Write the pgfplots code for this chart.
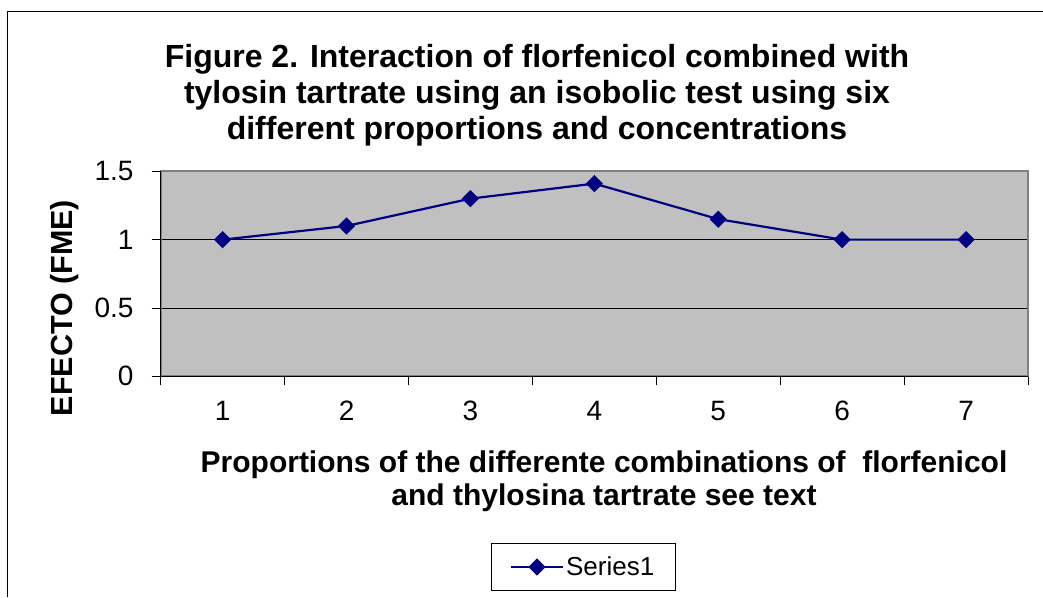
\documentclass[border=0pt]{standalone}
\usepackage{fontspec}
\setmainfont{Liberation Sans}
\usepackage{pgfplots}
\pgfplotsset{compat=1.18}
\definecolor{plotgray}{HTML}{C0C0C0}
\definecolor{bordergray}{HTML}{808080}
\definecolor{navyline}{HTML}{000080}
\begin{document}
\begin{tikzpicture}[x=1pt,y=1pt]
\begin{axis}[
  name=ax,
  scale only axis, width=867.3pt, height=205pt,
  xmin=0.5, xmax=7.5, ymin=0, ymax=1.5,
  xtick={0.5,1.5,2.5,3.5,4.5,5.5,6.5,7.5},
  xticklabels={},
  extra x ticks={1,2,3,4,5,6,7},
  extra x tick labels={1,2,3,4,5,6,7},
  extra x tick style={grid=none, tick style={draw=none}},
  ytick={0,0.5,1,1.5},
  yticklabels={0,0.5,1,1.5},
  xtick pos=bottom, ytick pos=left,
  tick align=outside,
  tick style={black, line width=0.8pt},
  major tick length=9pt,
  ymajorgrids,
  major grid style={black, line width=0.8pt},
  axis background/.style={fill=plotgray},
  axis line style={bordergray, line width=1.8pt},
  /pgf/number format/assume math mode=true,
  tick label style={font=\fontsize{28}{30}\selectfont},
  xticklabel style={anchor=base, yshift=-35.4pt},
  yticklabel style={anchor=east, inner sep=0pt, xshift=-18pt},
  legend style={at={(axis description cs:0.487,-0.930)}, anchor=center,
    draw=black, line width=0.8pt, font=\fontsize{26}{30}\selectfont,
    inner xsep=19pt, inner ysep=11pt},
  legend image code/.code={\draw[#1, mark repeat=2, mark phase=2] plot coordinates {(0pt,0pt) (26pt,0pt) (52pt,0pt)};},
  after end axis/.code={\draw[black, line width=1pt] (rel axis cs:0,1) -- (rel axis cs:0,0) -- (rel axis cs:1,0);
    \coordinate (O) at (rel axis cs:0,0);},
  clip=false,
]
\addplot[navyline, line width=2.2pt, mark=square*, mark size=5pt, mark options={rotate=45, solid, fill=navyline}]
  coordinates {(1,1) (2,1.1) (3,1.3) (4,1.41) (5,1.15) (6,1) (7,1)};
\addlegendentry{Series1}
\end{axis}
\pgfresetboundingbox
\begin{scope}[shift={(O)}, shift={(-160.7,-220.7)}]
\useasboundingbox (0,0) rectangle (1043,597);
\draw[line width=1pt] (8,0) -- (8,585) -- (1043,585);
% title
\node[anchor=base, font=\fontsize{32}{36}\selectfont\bfseries] at (537,529) {Figure 2. Interaction of florfenicol combined with};
\node[anchor=base, font=\fontsize{32}{36}\selectfont\bfseries] at (537,493) {tylosin tartrate using an isobolic test using six};
\node[anchor=base, font=\fontsize{32}{36}\selectfont\bfseries] at (537,457) {different proportions and concentrations};
% x label
\node[anchor=base, font=\fontsize{30}{33}\selectfont\bfseries] at (604,125) {Proportions of the differente combinations of \ florfenicol};
\node[anchor=base, font=\fontsize{30}{33}\selectfont\bfseries] at (604,92) {and thylosina tartrate see text};
% y label
\node[anchor=base, rotate=90, font=\fontsize{30.5}{33}\selectfont\bfseries] at (73,289) {EFECTO (FME)};
\end{scope}
\end{tikzpicture}
\end{document}
